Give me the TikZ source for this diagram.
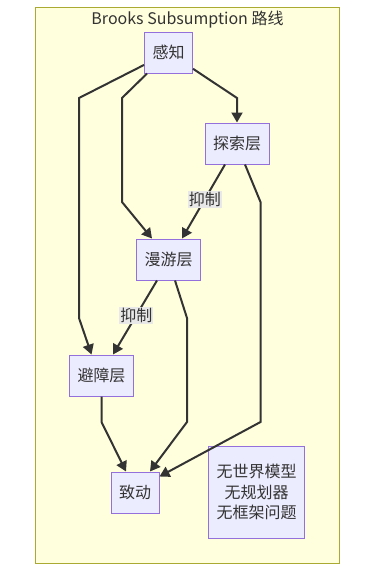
\documentclass[tikz,border=0pt]{standalone}
\usepackage{fontspec}
\setmainfont{Noto Sans CJK SC}
\usetikzlibrary{calc, positioning}
\usetikzlibrary{arrows.meta}
\definecolor{groupfill}{HTML}{FFFFDE}
\definecolor{groupline}{HTML}{AAAA33}
\definecolor{boxfill}{HTML}{ECECFF}
\definecolor{boxline}{HTML}{9370DB}
\definecolor{ink}{HTML}{333333}
\definecolor{tagfill}{HTML}{E8E8E8}
\begin{document}
\begin{tikzpicture}[x=1pt, y=-1pt,
    layer/.style={draw=boxline, fill=boxfill, line width=1pt, text=ink,
      minimum height=41pt, inner xsep=8pt, font=\fontsize{16}{20}\selectfont},
    flow/.style={draw=ink, line width=2pt, -{Triangle[length=10pt, width=11pt]}},
    tag/.style={fill=tagfill, text=ink, inner sep=1pt, font=\fontsize{16}{19}\selectfont}]
\useasboundingbox (0,0) rectangle (375,587);
\draw[groupline, fill=groupfill, line width=1pt] (35.5,7.5) rectangle (339,563);
\node[text=ink, font=\fontsize{16}{20}\selectfont] (title) at (187.5,20) {Brooks Subsumption 路线};
% layers
\node[layer] (sense) at (168.5,52.5) {感知};
\node[layer] (explore) at (237,143.5) {探索层};
\node[layer] (wander) at (168.5,259.5) {漫游层};
\node[layer] (avoid) at (101.5,375.5) {避障层};
\node[layer] (act) at (135,492.5) {致动};
\node[layer, minimum width=95pt, minimum height=92pt, align=center,
  font=\fontsize{16}{20.5}\selectfont] (note) at (256.5,492) {无世界模型\\无规划器\\无框架问题};
% connectors
\draw[flow] (sense) -- (79,98) -- (79,318) -- ([xshift=-10pt]avoid.north);
\draw[flow] (sense) -- (122,98) -- (122,202) -- ([xshift=-16.5pt]wander.north);
\draw[flow] (sense) -- (237,98) -- (explore.north);
\draw[flow] ([xshift=-12pt]explore.south) -- ([xshift=13.5pt]wander.north)
  node[tag, pos=0.47] (tagA) {抑制};
\draw[flow] ([xshift=8pt]explore.south) -- (260.5,202) -- (260.5,422)
  -- ([yshift=-5pt]act.north east);
\draw[flow] ([xshift=-11.5pt]wander.south) -- ([xshift=11.5pt]avoid.north)
  node[tag, pos=0.47] (tagB) {抑制};
\draw[flow] ([xshift=6.5pt]wander.south) -- (187,318) -- (187,422)
  -- ([xshift=15pt]act.north);
\draw[flow] (avoid.south) -- (101.5,422) -- ([xshift=-9pt]act.north);
\end{tikzpicture}
\end{document}
